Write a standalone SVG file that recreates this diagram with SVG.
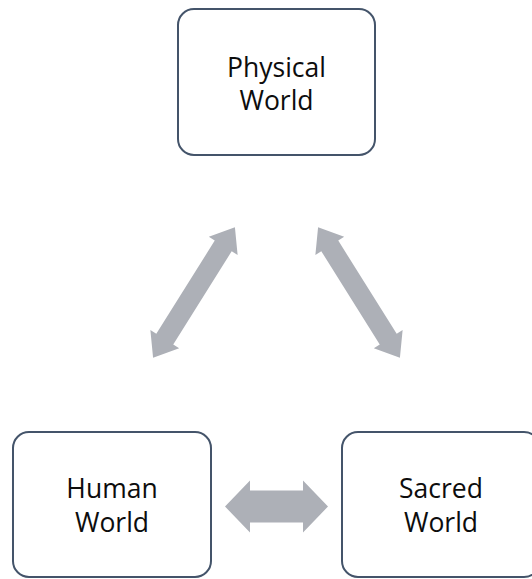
<svg xmlns="http://www.w3.org/2000/svg" width="532" height="579" viewBox="0 0 532 579">
  <style>
    .box { fill: #ffffff; stroke: #44546a; stroke-width: 2; }
    .label { font-family: "Open Sans", "Noto Sans", sans-serif; font-size: 26.5px; fill: #0d0d0d; text-anchor: middle; }
    .arrow { fill: #adb0b7; stroke: none; }
  </style>
  <defs>
    <!-- double-headed block arrow, centred on the origin, pointing along x -->
    <path id="diag-arrow" d="M -77 0 L -55 -17 L -55 -10 L 55 -10 L 55 -17 L 77 0 L 55 17 L 55 10 L -55 10 L -55 17 Z"/>
  </defs>
  <rect width="532" height="579" fill="#ffffff"/>

  <g id="connectors">
    <use href="#diag-arrow" class="arrow" transform="translate(194 292.5) rotate(-57.9)"/>
    <use href="#diag-arrow" class="arrow" transform="translate(359 292.5) rotate(57.9)"/>
    <path class="arrow" d="M 225 506.5 L 250 480.5 L 250 490.5 L 303 490.5 L 303 480.5 L 328 506.5 L 303 532.5 L 303 522.5 L 250 522.5 L 250 532.5 Z"/>
  </g>

  <g id="physical-world">
    <rect class="box" x="178" y="9" width="197" height="146" rx="16"/>
    <text class="label" x="276.5" y="77">Physical<tspan x="276.5" dy="33">World</tspan></text>
  </g>

  <g id="human-world">
    <rect class="box" x="13" y="432" width="198" height="145" rx="16"/>
    <text class="label" x="112" y="498">Human<tspan x="112" dy="34">World</tspan></text>
  </g>

  <g id="sacred-world">
    <rect class="box" x="342" y="432" width="198" height="145" rx="16"/>
    <text class="label" x="441" y="498">Sacred<tspan x="441" dy="34">World</tspan></text>
  </g>
</svg>
